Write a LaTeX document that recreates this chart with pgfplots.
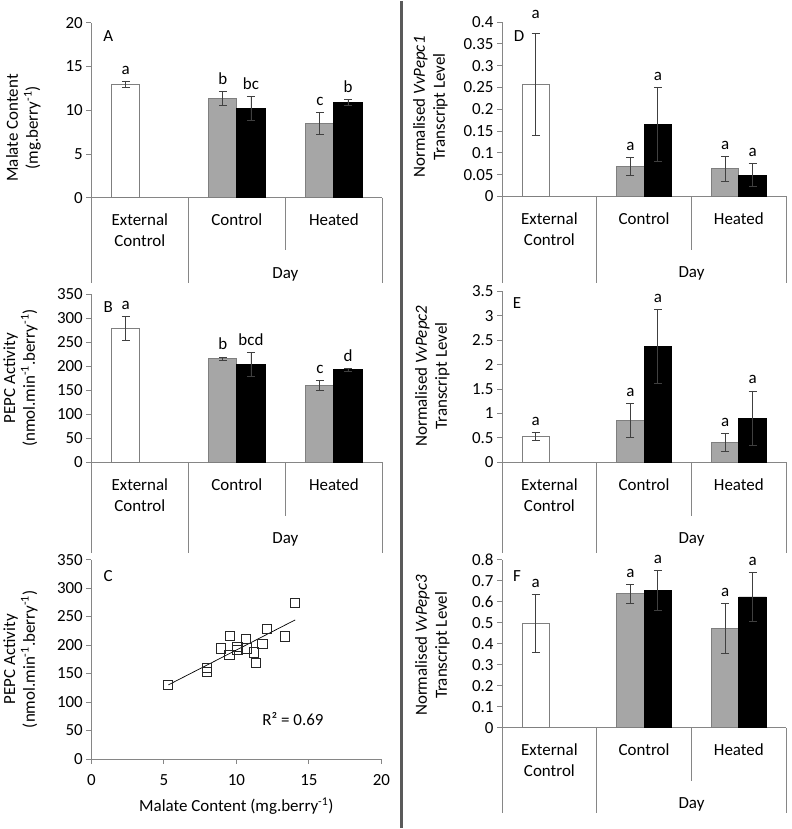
\documentclass[border=0pt]{standalone}
\usepackage{fontspec}
\setmainfont{Carlito}
\usepackage{pgfplots}
\pgfplotsset{compat=1.18}
\definecolor{axgray}{HTML}{868686}
\definecolor{bargray}{HTML}{A6A6A6}
\definecolor{edgegray}{HTML}{7F7F7F}
\definecolor{errgray}{HTML}{404040}
\definecolor{divgray}{HTML}{5A5A5A}
\newcommand{\fs}{\fontsize{17}{20}\selectfont}
\pgfplotsset{
  base/.style={
    scale only axis,
    axis x line*=bottom, axis y line*=left,
    axis line style={draw=axgray, line width=0.9pt, -},
    tick align=outside,
    major tick length=5pt,
    ytick style={draw=axgray, line width=0.9pt},
    xtick style={draw=axgray, line width=0.9pt},
    /pgf/number format/assume math mode=true,
    tick label style={font=\fs},
    clip=false,
  },
  barax/.style={base,
    xmin=-0.5, xmax=2.5, ymin=0,
    xtick=\empty,
    bar width=0.29,
  },
  errs/.style={error bars/.cd, y dir=both, y explicit,
    error bar style={errgray, line width=0.8pt},
    error mark=-,
    error mark options={errgray, mark size=4pt, line width=0.8pt, rotate=90}},
  wbar/.style={ybar, bar shift=0pt, fill=white, draw=edgegray, line width=0.9pt, errs},
  gbar/.style={ybar, bar shift=0pt, fill=bargray, draw=edgegray, line width=0.9pt, errs},
  kbar/.style={ybar, bar shift=0pt, fill=black, draw=black, line width=0.9pt, errs},
  letters/.style={only marks, mark=none, nodes near coords, point meta=explicit symbolic,
    every node near coord/.append style={font=\fs, anchor=base, yshift=7pt, inner sep=0pt}},
}
% category axis decorations: #1 full depth, #2 short depth, #3 day baseline
\newcommand{\cats}[3]{%
  \draw[axgray, line width=0.9pt] (rel axis cs:0,0) -- ++(0pt,-#1pt);
  \draw[axgray, line width=0.9pt] (axis cs:0.5,0) -- ++(0pt,-#1pt);
  \draw[axgray, line width=0.9pt] (axis cs:1.5,0) -- ++(0pt,-#2pt);
  \draw[axgray, line width=0.9pt] (rel axis cs:1,0) -- ++(0pt,-#1pt);
  \node[font=\fs, anchor=base, yshift=-28pt] at (axis cs:0,0) {External};
  \node[font=\fs, anchor=base, yshift=-49pt] at (axis cs:0,0) {Control};
  \node[font=\fs, anchor=base, yshift=-28pt] at (axis cs:1,0) {Control};
  \node[font=\fs, anchor=base, yshift=-28pt] at (axis cs:2,0) {Heated};
  \node[font=\fs, anchor=base, yshift=-#3pt] at (axis cs:1.5,0) {Day};
}
\begin{document}
\begin{tikzpicture}[x=1pt,y=1pt,font=\fs]
\path (0,0) rectangle (793,829);
\draw[divgray, line width=2.5pt] (402,0) -- (402,829);

% ---------------- A ----------------
\begin{axis}[barax, at={(91pt,632pt)}, anchor=south west,
  width=292pt, height=175.3pt, ymax=20, ytick={0,5,10,15,20}]
\addplot[wbar] coordinates {(-0.145,13.0) +- (0,0.35)};
\addplot[gbar] coordinates {(0.855,11.35) +- (0,0.77) (1.855,8.47) +- (0,1.28)};
\addplot[kbar] coordinates {(1.145,10.23) +- (0,1.37) (2.145,10.87) +- (0,0.32)};
\addplot[letters] coordinates {(-0.145,13.35) [a] (0.855,12.12) [b] (1.145,11.6) [bc] (1.855,9.75) [c] (2.145,11.19) [b]};
\cats{86}{53}{81}
\end{axis}
\node[font=\fs] at (108,794) {A};
\node[font=\fs, rotate=90, align=center] at (23,702) {Malate Content\\(mg.berry\textsuperscript{-1})};

% ---------------- B ----------------
\begin{axis}[barax, at={(91pt,366.7pt)}, anchor=south west,
  width=292pt, height=168.3pt, ymax=350, ytick={0,50,...,350}]
\addplot[wbar] coordinates {(-0.145,279) +- (0,25)};
\addplot[gbar] coordinates {(0.855,216) +- (0,3.5) (1.855,160) +- (0,11)};
\addplot[kbar] coordinates {(1.145,204) +- (0,25) (2.145,193) +- (0,3)};
\addplot[letters] coordinates {(-0.145,304) [a] (0.855,219.5) [b] (1.145,229) [bcd] (1.855,171) [c] (2.145,196) [d]};
\cats{91}{54}{82}
\end{axis}
\node[font=\fs] at (108,522) {B};
\node[font=\fs, rotate=90, align=center] at (20,451) {PEPC Activity\\(nmol.min\textsuperscript{-1}.berry\textsuperscript{-1})};

% ---------------- C ----------------
\begin{axis}[base, at={(91pt,69pt)}, anchor=south west,
  width=291pt, height=200pt, xmin=0, xmax=20, ymin=0, ymax=350,
  xtick={0,5,...,20}, ytick={0,50,...,350},
  xticklabel style={yshift=-7pt},
  xlabel={Malate Content (mg.berry\textsuperscript{-1})},
  xlabel style={font=\fs, yshift=-5pt}]
\addplot[only marks, mark=square, mark size=4.6pt, mark options={draw=black!85, line width=0.9pt, fill=none}]
 coordinates {(5.31,130) (7.96,153) (7.96,160) (8.92,194) (9.52,183) (9.57,216)
  (10.07,191) (10.07,196) (10.66,210) (10.70,194) (11.20,187) (11.35,168)
  (11.80,202) (12.08,228) (13.34,215) (14.05,274)};
\addplot[black, line width=0.7pt] coordinates {(5.31,130) (14.05,244)};
\node[font=\fs] at (axis cs:13.9,70) {R² = 0.69};
\end{axis}
\node[font=\fs] at (108,252) {C};
\node[font=\fs, rotate=90, align=center] at (20,169) {PEPC Activity\\(nmol.min\textsuperscript{-1}.berry\textsuperscript{-1})};

% ---------------- D ----------------
\begin{axis}[barax, at={(503pt,633.3pt)}, anchor=south west,
  width=285pt, height=174.7pt, ymax=0.4,
  ytick={0,0.05,0.1,0.15,0.2,0.25,0.3,0.35,0.4},
  yticklabel style={/pgf/number format/fixed, /pgf/number format/precision=2}]
\addplot[wbar] coordinates {(-0.145,0.257) +- (0,0.117)};
\addplot[gbar] coordinates {(0.855,0.069) +- (0,0.021) (1.855,0.063) +- (0,0.028)};
\addplot[kbar] coordinates {(1.145,0.165) +- (0,0.085) (2.145,0.049) +- (0,0.026)};
\addplot[letters] coordinates {(-0.145,0.392) [a] (0.855,0.09) [a] (1.145,0.25) [a] (1.855,0.091) [a] (2.145,0.075) [a]};
\cats{87}{54}{81}
\end{axis}
\node[font=\fs] at (520,794) {D};
\node[font=\fs, rotate=90, align=center] at (431,723) {Normalised \textit{VvPepc1}\\Transcript Level};

% ---------------- E ----------------
\begin{axis}[barax, at={(503pt,366.7pt)}, anchor=south west,
  width=285pt, height=171.3pt, ymax=3.5,
  ytick={0,0.5,1,1.5,2,2.5,3,3.5},
  yticklabel style={/pgf/number format/fixed, /pgf/number format/precision=1}]
\addplot[wbar] coordinates {(-0.145,0.53) +- (0,0.08)};
\addplot[gbar] coordinates {(0.855,0.85) +- (0,0.35) (1.855,0.41) +- (0,0.18)};
\addplot[kbar] coordinates {(1.145,2.37) +- (0,0.76) (2.145,0.90) +- (0,0.56)};
\addplot[letters] coordinates {(-0.145,0.61) [a] (0.855,1.2) [a] (1.145,3.13) [a] (1.855,0.59) [a] (2.145,1.46) [a]};
\cats{91}{54}{82}
\end{axis}
\node[font=\fs] at (518,526) {E};
\node[font=\fs, rotate=90, align=center] at (433,453) {Normalised \textit{VvPepc2}\\Transcript Level};

% ---------------- F ----------------
\begin{axis}[barax, at={(503pt,100.3pt)}, anchor=south west,
  width=285pt, height=168.7pt, ymax=0.8,
  ytick={0,0.1,0.2,0.3,0.4,0.5,0.6,0.7,0.8},
  yticklabel style={/pgf/number format/fixed, /pgf/number format/precision=1}]
\addplot[wbar] coordinates {(-0.145,0.495) +- (0,0.137)};
\addplot[gbar] coordinates {(0.855,0.637) +- (0,0.045) (1.855,0.472) +- (0,0.118)};
\addplot[kbar] coordinates {(1.145,0.652) +- (0,0.095) (2.145,0.622) +- (0,0.118)};
\addplot[letters] coordinates {(-0.145,0.632) [a] (0.855,0.682) [a] (1.145,0.747) [a] (1.855,0.59) [a] (2.145,0.74) [a]};
\cats{86}{53}{81}
\end{axis}
\node[font=\fs] at (518,252) {F};
\node[font=\fs, rotate=90, align=center] at (433,183) {Normalised \textit{VvPepc3}\\Transcript Level};
\end{tikzpicture}
\end{document}
